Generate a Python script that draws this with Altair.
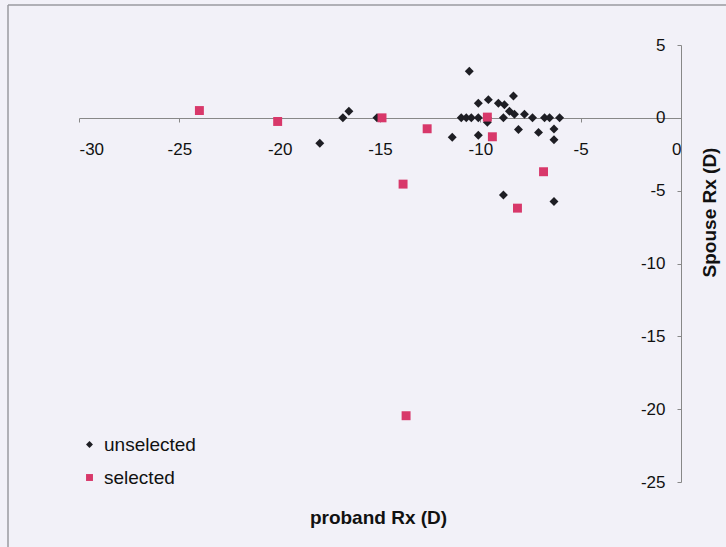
import altair as alt
import pandas as pd

# unselected (black diamonds)
unsel_x = [-10.55, -10.1, -9.6, -9.1, -8.8, -8.35, -8.55, -8.3, -7.8,
           -10.95, -10.7, -10.45, -10.1, -9.65, -8.85, -7.4, -6.8, -6.55, -6.05,
           -9.65, -11.4, -10.1, -8.1, -7.1, -6.33, -6.33, -8.85, -6.33,
           -18.0, -16.85, -16.55, -15.15]
unsel_y = [3.2, 1.0, 1.25, 1.0, 0.9, 1.5, 0.45, 0.25, 0.25,
           0.0, 0.0, 0.0, 0.0, 0.0, 0.0, 0.0, 0.0, 0.0, 0.0,
           -0.3, -1.33, -1.2, -0.8, -1.0, -0.77, -1.5, -5.3, -5.75,
           -1.75, 0.0, 0.45, 0.0]

# selected (red squares)
sel_x = [-24.0, -20.1, -14.9, -12.65, -13.85, -9.65, -9.4, -6.85, -8.15, -13.7]
sel_y = [0.5, -0.25, 0.0, -0.75, -4.55, 0.05, -1.3, -3.7, -6.2, -20.45]

x_ticks = [-30, -25, -20, -15, -10, -5, 0]
y_ticks = [5, 0, -5, -10, -15, -20, -25]

df = pd.concat([
    pd.DataFrame({"x": unsel_x, "y": unsel_y, "group": "unselected"}),
    pd.DataFrame({"x": sel_x, "y": sel_y, "group": "selected"}),
], ignore_index=True)

W, H = 602, 437
FONT = "Liberation Sans"
HYPHEN = "datum.value + ''"

legend = alt.Legend(title=None, orient="none", legendX=1, legendY=390,
                    labelFont=FONT, labelFontSize=19, labelColor="#111",
                    symbolSize=48, rowPadding=13, labelOffset=5)

points = alt.Chart(df).mark_point(filled=True, size=80, opacity=1).encode(
    x=alt.X("x:Q", scale=alt.Scale(domain=[-30, 0], nice=False, zero=False),
            axis=alt.Axis(values=x_ticks, orient="bottom", offset=-(H - 118 + 45),
                          labelExpr=HYPHEN,
                          title="proband Rx (D)", titleX=W / 2 - 2, titleY=H - 73 + 35,
                          titleBaseline="middle", titleAnchor="middle",
                          titleFont=FONT, titleFontSize=19, titleFontWeight="bold",
                          titleColor="#111",
                          labelFont=FONT, labelFontSize=17, labelColor="#111",
                          labelPadding=19, tickSize=4, tickColor="#888",
                          domainColor="#888", grid=False)),
    y=alt.Y("y:Q", scale=alt.Scale(domain=[-25, 5], nice=False, zero=False),
            axis=alt.Axis(values=y_ticks, orient="left", offset=-W,
                          labelExpr=HYPHEN,
                          title="Spouse Rx (D)", titleX=28, titleY=167, titleAngle=-90,
                          titleAlign="center", titleBaseline="middle",
                          titleFont=FONT, titleFontSize=19, titleFontWeight="bold",
                          titleColor="#111",
                          labelFont=FONT, labelFontSize=17, labelColor="#111",
                          labelPadding=12, tickSize=4, tickColor="#888",
                          domainColor="#888", grid=False)),
    color=alt.Color("group:N",
                    scale=alt.Scale(domain=["unselected", "selected"], range=["#1e1e24", "#d8386a"]),
                    legend=legend),
    shape=alt.Shape("group:N",
                    scale=alt.Scale(domain=["unselected", "selected"], range=["diamond", "square"]),
                    legend=legend),
)

border_df = pd.DataFrame({"k": [0]})
top_border = alt.Chart(border_df).mark_rule(color="#9a9aa0", strokeWidth=1.5).encode(
    x=alt.value(-71), x2=alt.value(W + 45), y=alt.value(-40))
left_border = alt.Chart(border_df).mark_rule(color="#9a9aa0", strokeWidth=1.5).encode(
    x=alt.value(-71), y=alt.value(-40), y2=alt.value(H + 65))

chart = alt.layer(top_border, left_border, points).properties(
    width=W, height=H,
    autosize=alt.AutoSizeParams(type="none"),
    padding={"left": 79, "top": 45, "right": 45, "bottom": 65},
    background="#f2f1f8",
).configure_view(stroke=None)

chart.save("out.html", embed_options={"renderer": "svg", "actions": False})
